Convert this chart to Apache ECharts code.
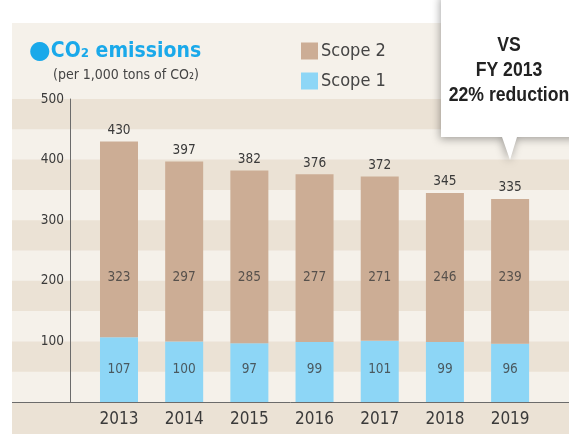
<!DOCTYPE html>
<html>
<head>
<meta charset="utf-8">
<script src="https://cdn.jsdelivr.net/npm/echarts@6/dist/echarts.min.js"></script>
<style>
  html, body { margin: 0; padding: 0; background: #ffffff; }
  #chart { width: 569px; height: 434px; }
</style>
</head>
<body>
<div id="chart"></div>
<script>
// Fiscal years on the category axis
const years = ['2013', '2014', '2015', '2016', '2017', '2018', '2019'];
// Emissions, thousand tons of CO2
const scope1 = [107, 100, 97, 99, 101, 99, 96];
const scope2 = [323, 297, 285, 277, 271, 246, 239];
// Value axis ticks
const yTicks = [0, 100, 200, 300, 400, 500];

const FONT = '"DejaVu Sans Condensed", "Liberation Sans", sans-serif';
const TEXT = '#3a3a3a';
const BLUE = '#8dd6f6';
const TAN = '#ccad95';
const PANEL = '#f5f1ea';
const STRIPE = '#ebe2d5';

// levels where the in-bar figures sit (all bars share one row per scope)
const SCOPE2_LABEL_LEVEL = 205;
const SCOPE1_LABEL_LEVEL = 54;

const totals = scope1.map((v, i) => v + scope2[i]);

const chart = echarts.init(document.getElementById('chart'), null, { renderer: 'canvas' });

const option = {
  backgroundColor: '#ffffff',
  animation: false,
  textStyle: { fontFamily: FONT },
  title: [
    {
      left: 29, top: 39,
      text: '{dot|●}{t|CO₂ emissions}',
      padding: 0,
      textStyle: {
        rich: {
          dot: { fontSize: 25, color: '#1aa9ea', fontFamily: 'DejaVu Sans' },
          t: { fontSize: 21, fontWeight: 'bold', color: '#1aa9ea', fontFamily: FONT }
        }
      }
    },
    {
      left: 53, top: 68,
      text: '(per 1,000 tons of CO₂)',
      padding: 0,
      textStyle: { fontSize: 14, fontWeight: 'normal', color: '#444', fontFamily: FONT }
    }
  ],
  legend: {
    orient: 'vertical',
    left: 296, top: 37,
    itemWidth: 17, itemHeight: 17, itemGap: 12,
    icon: 'rect',
    data: ['Scope 2', 'Scope 1'],
    textStyle: { fontSize: 18, color: '#444', fontFamily: FONT, padding: [0, 0, 0, -2] }
  },
  grid: { left: 86.4, right: 26.3, top: 99, bottom: 32 },
  xAxis: {
    type: 'category',
    data: years,
    axisLine: { show: false },
    axisTick: { show: false },
    axisLabel: { fontSize: 17, color: TEXT, margin: 9, fontFamily: FONT }
  },
  yAxis: {
    type: 'value',
    min: yTicks[0], max: yTicks[yTicks.length - 1], interval: 100,
    offset: 16.4,
    axisLine: { show: true, lineStyle: { color: '#6b6b6b', width: 1 } },
    axisTick: { show: false },
    splitLine: { show: false },
    axisLabel: {
      fontSize: 13.5, color: TEXT, margin: 6, fontFamily: FONT,
      formatter: v => (v === 0 ? '' : String(v))
    }
  },
  series: [
    {
      name: 'Scope 1', type: 'bar', stack: 'co2', barWidth: 38,
      itemStyle: { color: BLUE },
      data: scope1, z: 3
    },
    {
      name: 'Scope 2', type: 'bar', stack: 'co2', barWidth: 38,
      itemStyle: { color: TAN },
      data: scope2, z: 3,
      label: {
        show: true, position: 'top', distance: 4,
        fontSize: 13.5, color: TEXT, fontFamily: FONT,
        formatter: p => String(totals[p.dataIndex])
      }
    },
    {
      name: 'scope2-values', type: 'scatter', symbolSize: 0, silent: true, z: 5,
      data: scope2.map(() => SCOPE2_LABEL_LEVEL),
      label: {
        show: true, position: 'inside',
        fontSize: 13.5, color: TEXT, fontFamily: FONT,
        formatter: p => String(scope2[p.dataIndex])
      }
    },
    {
      name: 'scope1-values', type: 'scatter', symbolSize: 0, silent: true, z: 5,
      data: scope1.map(() => SCOPE1_LABEL_LEVEL),
      label: {
        show: true, position: 'inside',
        fontSize: 13.5, color: TEXT, fontFamily: FONT,
        formatter: p => String(scope1[p.dataIndex])
      }
    }
  ]
};

chart.setOption(option);

// Panel, alternating bands and the full-width baseline, placed with the value scale
const yPx = v => chart.convertToPixel({ yAxisIndex: 0 }, v);
const PANEL_LEFT = 12, PANEL_TOP = 23, W = 569, H = 434;
const decor = [];
decor.push({
  type: 'rect', z: -20, silent: true,
  shape: { x: PANEL_LEFT, y: PANEL_TOP, width: W - PANEL_LEFT, height: H - PANEL_TOP },
  style: { fill: PANEL }
});
for (let v = 50; v < 500; v += 100) {
  const top = yPx(v + 50), bottom = yPx(v);
  decor.push({
    type: 'rect', z: -19, silent: true,
    shape: { x: PANEL_LEFT, y: top, width: W - PANEL_LEFT, height: bottom - top },
    style: { fill: STRIPE }
  });
}
const base = yPx(0);
decor.push({
  type: 'rect', z: -19, silent: true,
  shape: { x: PANEL_LEFT, y: base, width: W - PANEL_LEFT, height: H - base },
  style: { fill: STRIPE }
});
decor.push({
  type: 'line', z: 10, silent: true,
  shape: { x1: PANEL_LEFT, y1: base + 0.5, x2: W, y2: base + 0.5 },
  style: { stroke: '#6b6b6b', lineWidth: 1 }
});
// callout with pointer
decor.push({
  type: 'polygon', z: 20, silent: true,
  shape: { points: [[441, -5], [580, -5], [580, 137], [517, 137], [510, 160], [502, 137], [441, 137]] },
  style: { fill: '#ffffff', shadowBlur: 8, shadowColor: 'rgba(0,0,0,0.35)', shadowOffsetX: -1, shadowOffsetY: 2 }
});
decor.push({
  type: 'text', z: 21, silent: true,
  x: 509, y: 33, scaleX: 0.84, scaleY: 1,
  style: {
    x: 0, y: 0, text: 'VS\nFY 2013\n22% reduction',
    align: 'center', verticalAlign: 'top',
    font: 'bold 21px "Liberation Sans", sans-serif', lineHeight: 25, fill: '#222222'
  }
});
chart.setOption({ graphic: { elements: decor } });
</script>
</body>
</html>
